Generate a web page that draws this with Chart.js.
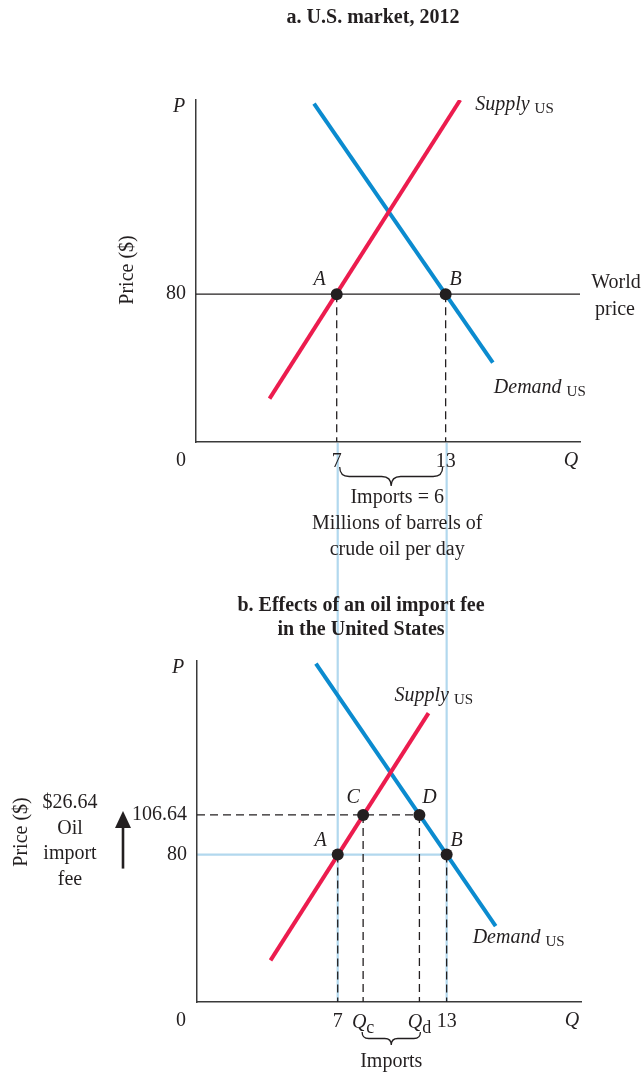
<!DOCTYPE html>
<html lang="en">
<head>
<meta charset="UTF-8">
<title>U.S. oil market and an oil import fee</title>
<script src="https://cdn.jsdelivr.net/npm/chart.js"></script>
<style>
  body { margin: 0; background: #fff; }
  #wrap { position: relative; width: 643px; height: 1074px; }
  #wrap canvas { position: absolute; left: 0; top: 0; }
</style>
</head>
<body>
<div id="wrap">
  <canvas id="chartB" width="643" height="1074"></canvas>
  <canvas id="chartA" width="643" height="1074"></canvas>
</div>
<script>
// ---- data (quantity in millions of barrels/day, price in $) ----
const qMin = -0.75, qMax = 20.4;
const pMin = -19, pMax = 210;
const worldPrice = 80;
const feePrice = 106.64;
const qTicks = [7, 13];
const pTicksA = [80];
const pTicksB = [80, 106.64];

const supplyQA = [3.3, 13.8];
const supplyPA = [10, 210];
const demandQA = [5.75, 15.6];
const demandPA = [207.6, 34.2];

const supplyQB = [3.3, 12.0];
const supplyPB = [9, 175];
const demandQB = [5.8, 15.7];
const demandPB = [208.2, 31.9];

const pointNamesA = ['A', 'B'];
const pointQA = [7, 13];
const pointPA = [80, 80];
const pointNamesB = ['A', 'B', 'C', 'D'];
const pointQB = [7, 13, 8.4, 11.5];
const pointPB = [80, 80, 106.64, 106.64];

// ---- style ----
const W = 643, H = 1074;
const serif = "'Liberation Serif', 'DejaVu Serif', serif";
const ink = '#231f20';
const red = '#ec1c4e';
const blue = '#0b8bcf';
const pale = '#b2d8ee';
const labelOffset = { A: [-17, -14], B: [10, -14], C: [-10, -17], D: [10, -17] };

function xy(qs, ps) {
  return qs.map((q, i) => ({ x: q, y: ps[i] }));
}

function lineSet(data, color, width, order, dash) {
  return { data, showLine: true, borderColor: color, borderWidth: width, pointRadius: 0,
           borderCapStyle: 'butt', borderDash: dash || [], order };
}

function dashSet(data) {
  return lineSet(data, ink, 1.3, 5, [8, 5]);
}

function text(ctx, str, x, y, opt) {
  opt = opt || {};
  ctx.save();
  ctx.font = (opt.style || '') + ' ' + (opt.weight || '') + ' ' + (opt.size || 20) + 'px ' + serif;
  ctx.fillStyle = ink;
  ctx.textAlign = opt.align || 'center';
  ctx.textBaseline = opt.baseline || 'middle';
  ctx.fillText(str, x, y);
  ctx.restore();
}

function vtext(ctx, str, x, y) {
  ctx.save();
  ctx.translate(x, y);
  ctx.rotate(-Math.PI / 2);
  text(ctx, str, 0, 0);
  ctx.restore();
}

// italic main text followed by a small lowered roman part, e.g. Supply US, Q c
function subLabel(ctx, main, sub, x, y, align, subSize, drop) {
  ctx.save();
  ctx.font = 'italic 20px ' + serif;
  const w1 = ctx.measureText(main).width;
  ctx.font = subSize + 'px ' + serif;
  const w2 = ctx.measureText(sub).width;
  const gap = sub === 'US' ? 5 : 0;
  const x0 = align === 'center' ? x - (w1 + gap + w2) / 2 : x;
  text(ctx, main, x0, y, { style: 'italic', align: 'left', baseline: 'alphabetic' });
  text(ctx, sub, x0 + w1 + gap, y + drop, { size: subSize, align: 'left', baseline: 'alphabetic' });
  ctx.restore();
}

function brace(ctx, x1, x2, y, h) {
  const xm = (x1 + x2) / 2, r = h / 2;
  ctx.save();
  ctx.strokeStyle = ink;
  ctx.lineWidth = 1.3;
  ctx.beginPath();
  ctx.moveTo(x1, y);
  ctx.quadraticCurveTo(x1, y + r, x1 + r, y + r);
  ctx.lineTo(xm - r, y + r);
  ctx.quadraticCurveTo(xm, y + r, xm, y + h);
  ctx.quadraticCurveTo(xm, y + r, xm + r, y + r);
  ctx.lineTo(x2 - r, y + r);
  ctx.quadraticCurveTo(x2, y + r, x2, y);
  ctx.stroke();
  ctx.restore();
}

function pointLabels(chart, names, qs, ps) {
  const { ctx, scales: { x, y } } = chart;
  names.forEach((n, i) => {
    const off = labelOffset[n];
    text(ctx, n, x.getPixelForValue(qs[i]) + off[0], y.getPixelForValue(ps[i]) + off[1], { style: 'italic' });
  });
}

function baseOptions(area, xTicks, yTicks) {
  const tickFont = { family: serif, size: 20 };
  return {
    responsive: false,
    animation: false,
    events: [],
    layout: { padding: { top: area.top, right: W - area.right, left: 0, bottom: 0 } },
    plugins: { legend: { display: false }, tooltip: { enabled: false } },
    scales: {
      x: {
        type: 'linear', min: qMin, max: qMax,
        afterBuildTicks: s => { s.ticks = xTicks.map(v => ({ value: v })); },
        afterFit: s => { s.height = H - area.bottom; },
        grid: { display: false, drawTicks: false },
        border: { display: true, color: '#3a3a3a', width: 1.5 },
        ticks: { autoSkip: false, maxRotation: 0, padding: 8, color: ink, font: tickFont,
                 callback: v => String(v) }
      },
      y: {
        type: 'linear', min: pMin, max: pMax,
        afterBuildTicks: s => { s.ticks = yTicks.map(v => ({ value: v })); },
        afterFit: s => { s.width = area.left; },
        grid: { display: false, drawTicks: false },
        border: { display: true, color: '#3a3a3a', width: 1.5 },
        ticks: { autoSkip: false, padding: 10, color: ink, font: tickFont,
                 callback: v => String(v) }
      }
    }
  };
}

// ---- panel a ----
const panelA = {
  id: 'panelA',
  afterDraw(chart) {
    const { ctx, scales: { x, y }, chartArea: a } = chart;
    text(ctx, 'a. U.S. market, 2012', 373, 18, { weight: 'bold' });
    text(ctx, 'P', a.left - 17, a.top + 7, { style: 'italic' });
    text(ctx, '0', a.left - 15, a.bottom + 19);
    text(ctx, 'Q', a.right - 9, a.bottom + 19, { style: 'italic' });
    vtext(ctx, 'Price ($)', 128, 270);

    subLabel(ctx, 'Supply', 'US', x.getPixelForValue(supplyQA[1]) + 15, y.getPixelForValue(supplyPA[1]) + 10, 'left', 15, 3);
    subLabel(ctx, 'Demand', 'US', x.getPixelForValue(demandQA[1]) + 1, y.getPixelForValue(demandPA[1]) + 30, 'left', 15, 3);
    pointLabels(chart, pointNamesA, pointQA, pointPA);

    const yw = y.getPixelForValue(worldPrice);
    text(ctx, 'World', a.right + 36, yw - 11);
    text(ctx, 'price', a.right + 35, yw + 16);

    const x7 = x.getPixelForValue(qTicks[0]), x13 = x.getPixelForValue(qTicks[1]);
    brace(ctx, x7 + 3, x13 - 3, a.bottom + 25, 19);
    const xc = (x7 + x13) / 2 + 6;
    text(ctx, 'Imports = 6', xc, a.bottom + 56);
    text(ctx, 'Millions of barrels of', xc, a.bottom + 82);
    text(ctx, 'crude oil per day', xc, a.bottom + 108);
  }
};

const chartA = new Chart(document.getElementById('chartA'), {
  type: 'scatter',
  data: {
    datasets: [
      { data: xy(pointQA, pointPA), pointRadius: 6, backgroundColor: ink, borderWidth: 0, order: 0 },
      lineSet(xy(supplyQA, supplyPA), red, 4, 1),
      lineSet(xy(demandQA, demandPA), blue, 4, 2),
      lineSet([{ x: qMin, y: worldPrice }, { x: qMax, y: worldPrice }], ink, 1.3, 3),
      dashSet([{ x: pointQA[0], y: pointPA[0] }, { x: pointQA[0], y: pMin }]),
      dashSet([{ x: pointQA[1], y: pointPA[1] }, { x: pointQA[1], y: pMin }])
    ]
  },
  options: baseOptions({ left: 196, right: 580, top: 100, bottom: 442 }, qTicks, pTicksA),
  plugins: [panelA]
});

// ---- panel b ----
const panelB = {
  id: 'panelB',
  beforeDraw(chart) {
    // pale guides carried down from panel a, and the world price
    const { ctx, scales: { x, y }, chartArea: a } = chart;
    const top = chartA.chartArea.bottom + 1;
    ctx.save();
    ctx.strokeStyle = pale;
    ctx.lineWidth = 2.2;
    ctx.beginPath();
    qTicks.forEach(q => {
      const px = x.getPixelForValue(q);
      ctx.moveTo(px, top);
      ctx.lineTo(px, a.bottom);
    });
    const yw = y.getPixelForValue(worldPrice);
    ctx.moveTo(a.left, yw);
    ctx.lineTo(x.getPixelForValue(qTicks[1]), yw);
    ctx.stroke();
    ctx.restore();
  },
  afterDraw(chart) {
    const { ctx, scales: { x, y }, chartArea: a } = chart;
    text(ctx, 'b. Effects of an oil import fee', 361, 606, { weight: 'bold' });
    text(ctx, 'in the United States', 361, 630, { weight: 'bold' });
    text(ctx, 'P', a.left - 19, a.top + 7, { style: 'italic' });
    text(ctx, '0', a.left - 16, a.bottom + 19);
    text(ctx, 'Q', a.right - 9, a.bottom + 19, { style: 'italic' });
    vtext(ctx, 'Price ($)', 22, 832);

    ['$26.64', 'Oil', 'import', 'fee'].forEach((s, i) => text(ctx, s, 70, 803 + i * 25.5));

    // arrow for the fee
    const yw = y.getPixelForValue(worldPrice), yf = y.getPixelForValue(feePrice);
    ctx.save();
    ctx.strokeStyle = ink;
    ctx.fillStyle = ink;
    ctx.lineWidth = 2.6;
    ctx.beginPath();
    ctx.moveTo(123, yw + 14);
    ctx.lineTo(123, yf + 12);
    ctx.stroke();
    ctx.beginPath();
    ctx.moveTo(123, yf - 4);
    ctx.lineTo(131, yf + 13);
    ctx.lineTo(115, yf + 13);
    ctx.closePath();
    ctx.fill();
    ctx.restore();

    subLabel(ctx, 'Supply', 'US', x.getPixelForValue(supplyQB[1]) - 34, y.getPixelForValue(supplyPB[1]) - 12, 'left', 15, 3);
    subLabel(ctx, 'Demand', 'US', x.getPixelForValue(demandQB[1]) - 23, y.getPixelForValue(demandPB[1]) + 17, 'left', 15, 3);
    pointLabels(chart, pointNamesB, pointQB, pointPB);

    const xqc = x.getPixelForValue(pointQB[2]), xqd = x.getPixelForValue(pointQB[3]);
    subLabel(ctx, 'Q', 'c', xqc, a.bottom + 26, 'center', 18, 5);
    subLabel(ctx, 'Q', 'd', xqd, a.bottom + 26, 'center', 18, 5);
    brace(ctx, xqc - 1, xqd + 1, a.bottom + 30, 13);
    text(ctx, 'Imports', (xqc + xqd) / 2, a.bottom + 60);
  }
};

new Chart(document.getElementById('chartB'), {
  type: 'scatter',
  data: {
    datasets: [
      { data: xy(pointQB, pointPB), pointRadius: 6, backgroundColor: ink, borderWidth: 0, order: 0 },
      lineSet(xy(supplyQB, supplyPB), red, 4, 1),
      lineSet(xy(demandQB, demandPB), blue, 4, 2),
      dashSet([{ x: qMin, y: feePrice }, { x: pointQB[3], y: feePrice }]),
      dashSet([{ x: pointQB[2], y: feePrice }, { x: pointQB[2], y: pMin }]),
      dashSet([{ x: pointQB[3], y: feePrice }, { x: pointQB[3], y: pMin }]),
      dashSet([{ x: pointQB[0], y: worldPrice }, { x: pointQB[0], y: pMin }]),
      dashSet([{ x: pointQB[1], y: worldPrice }, { x: pointQB[1], y: pMin }])
    ]
  },
  options: baseOptions({ left: 197, right: 581, top: 661, bottom: 1002 }, qTicks, pTicksB),
  plugins: [panelB]
});
</script>
</body>
</html>
